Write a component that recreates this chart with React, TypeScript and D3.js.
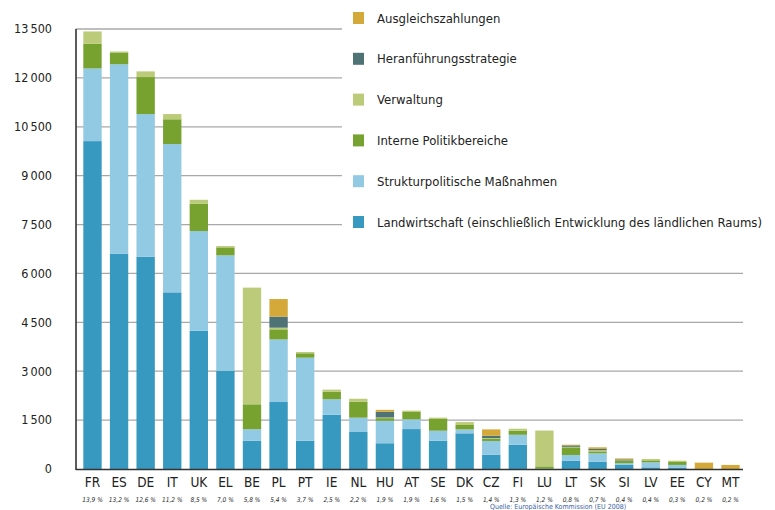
import React from 'react'
import * as d3 from 'd3'

// EU-Ausgaben nach Mitgliedstaat, Mio. EUR
const countries = ['FR', 'ES', 'DE', 'IT', 'UK', 'EL', 'BE', 'PL', 'PT', 'IE', 'NL', 'HU', 'AT', 'SE', 'DK', 'CZ', 'FI', 'LU', 'LT', 'SK', 'SI', 'LV', 'EE', 'CY', 'MT']
const shares = ['13,9 %', '13,2 %', '12,6 %', '11,2 %', '8,5 %', '7,0 %', '5,8 %', '5,4 %', '3,7 %', '2,5 %', '2,2 %', '1,9 %', '1,9 %', '1,6 %', '1,5 %', '1,4 %', '1,3 %', '1,2 %', '0,8 %', '0,7 %', '0,4 %', '0,4 %', '0,3 %', '0,2 %', '0,2 %']

const landwirtschaft = [10060, 6600, 6510, 5420, 4240, 3015, 870, 2055, 870, 1665, 1135, 790, 1225, 870, 1095, 440, 745, 5, 255, 225, 125, 50, 30, 0, 0]
const strukturpolitik = [2230, 5820, 4380, 4550, 3060, 3540, 350, 1920, 2545, 475, 440, 690, 300, 305, 120, 420, 305, 5, 175, 255, 50, 155, 95, 0, 0]
const internePolitik = [755, 360, 1135, 760, 840, 245, 765, 310, 135, 235, 490, 80, 225, 360, 135, 60, 125, 70, 235, 60, 70, 60, 90, 0, 0]
const verwaltung = [380, 30, 175, 160, 120, 40, 3580, 50, 40, 60, 90, 20, 40, 40, 90, 30, 60, 1100, 15, 35, 15, 40, 40, 0, 0]
const heranfuehrung = [0, 0, 0, 0, 0, 0, 0, 340, 0, 0, 0, 175, 0, 0, 0, 70, 0, 0, 45, 40, 35, 0, 0, 0, 0]
const ausgleich = [0, 0, 0, 0, 0, 0, 0, 540, 0, 0, 0, 60, 0, 0, 0, 195, 0, 0, 20, 50, 30, 0, 0, 195, 125]

const yTicks = [0, 1500, 3000, 4500, 6000, 7500, 9000, 10500, 12000, 13500]

const seriesKeys = ['landwirtschaft', 'strukturpolitik', 'internePolitik', 'verwaltung', 'heranfuehrung', 'ausgleich']
const seriesColors: Record<string, string> = {
  landwirtschaft: '#3798c0',
  strukturpolitik: '#92c9e3',
  internePolitik: '#77a22f',
  verwaltung: '#bccb7a',
  heranfuehrung: '#4f7275',
  ausgleich: '#d4a93a',
}
const legendItems = [
  { key: 'ausgleich', label: 'Ausgleichszahlungen' },
  { key: 'heranfuehrung', label: 'Heranführungsstrategie' },
  { key: 'verwaltung', label: 'Verwaltung' },
  { key: 'internePolitik', label: 'Interne Politikbereiche' },
  { key: 'strukturpolitik', label: 'Strukturpolitische Maßnahmen' },
  { key: 'landwirtschaft', label: 'Landwirtschaft (einschließlich Entwicklung des ländlichen Raums)' },
]

const W = 775
const H = 510
const font = "'DejaVu Sans Condensed', 'Liberation Sans Narrow', sans-serif"

export default function App() {
  const rows = countries.map((c, i) => ({
    country: c,
    landwirtschaft: landwirtschaft[i],
    strukturpolitik: strukturpolitik[i],
    internePolitik: internePolitik[i],
    verwaltung: verwaltung[i],
    heranfuehrung: heranfuehrung[i],
    ausgleich: ausgleich[i],
  }))

  const stack = d3.stack<any>().keys(seriesKeys)
  const layers = stack(rows)

  const x = d3.scaleBand<string>()
    .domain(countries)
    .range([78, 745])
    .paddingInner(0.31)
    .paddingOuter(0.2)

  const y = d3.scaleLinear().domain([0, 13500]).range([469, 29])

  const axisLeft = 76
  const gridRight = 743
  const legendLeft = 342

  return (
    <svg width={W} height={H} style={{ position: 'absolute', left: 0, top: 0, background: '#fff' }} fontFamily={font}>
      {/* gridlines, hidden behind the legend in the upper right */}
      {yTicks.filter(t => t > 0).map(t => (
        <line key={t} x1={axisLeft} x2={y(t) < 240 ? legendLeft : gridRight} y1={y(t)} y2={y(t)} stroke="#a8a8a8" strokeWidth={1.3} />
      ))}
      {yTicks.map(t => (
        <text key={t} x={52} y={y(t)} dy="0.35em" textAnchor="end" fontSize={12.5} fill="#222">
          {t === 0 ? '0' : d3.format(',')(t).replace(',', '\u2009')}
        </text>
      ))}

      {/* bars */}
      {layers.map(layer => (
        <g key={layer.key} fill={seriesColors[layer.key]}>
          {layer.map((d, i) => {
            const h = y(d[0]) - y(d[1])
            if (h <= 0) return null
            return <rect key={i} x={x(countries[i])} y={y(d[1])} width={x.bandwidth()} height={h} />
          })}
        </g>
      ))}

      {/* axes */}
      <line x1={axisLeft} x2={axisLeft} y1={29} y2={470} stroke="#333" strokeWidth={1.6} />
      <line x1={axisLeft} x2={gridRight} y1={469.5} y2={469.5} stroke="#333" strokeWidth={1.6} />

      {countries.map((c, i) => (
        <g key={c}>
          <text x={(x(c) as number) + x.bandwidth() / 2} y={487} textAnchor="middle" fontSize={13.5} fill="#222">{c}</text>
          <text x={(x(c) as number) + x.bandwidth() / 2} y={502} textAnchor="middle" fontSize={6.5} fontStyle="italic" fill="#222">{shares[i]}</text>
        </g>
      ))}

      {/* legend */}
      {legendItems.map((item, i) => (
        <g key={item.key} transform={`translate(353, ${18 + i * 40.8})`}>
          <rect x={0} y={-6} width={11} height={12} fill={seriesColors[item.key]} />
          <text x={24} y={0} dy="0.35em" fontSize={13} fill="#222">{item.label}</text>
        </g>
      ))}

      <text x={490} y={509} fontSize={7} fill="#3a5fa8">Quelle: Europäische Kommission (EU 2008)</text>
    </svg>
  )
}
